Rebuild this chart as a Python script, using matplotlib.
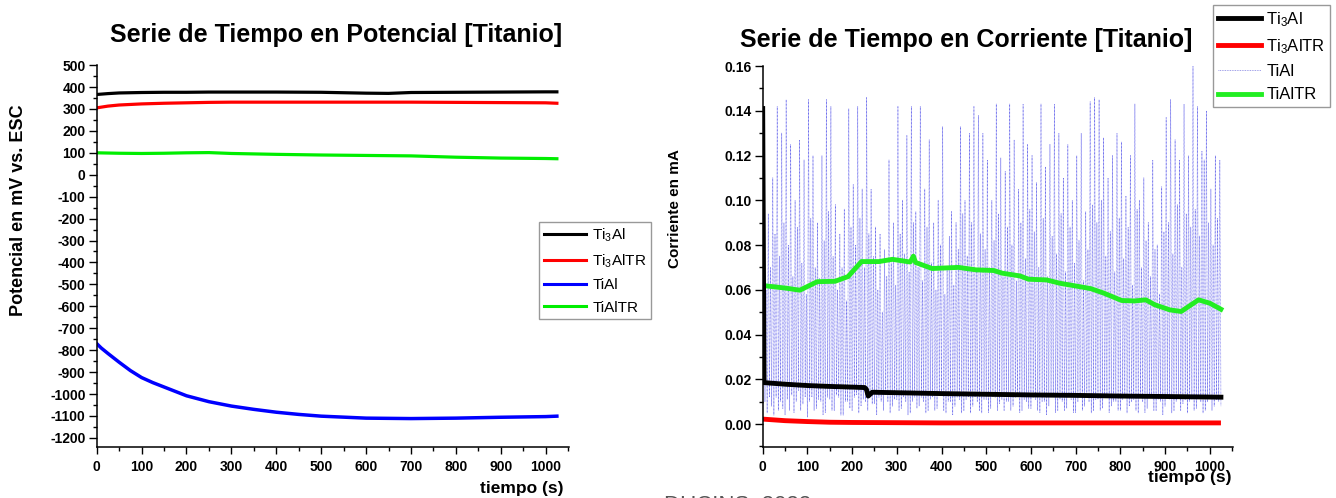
import numpy as np
import matplotlib
matplotlib.use("Agg")
import matplotlib.pyplot as plt
from matplotlib.ticker import MultipleLocator, FormatStrFormatter
from matplotlib.lines import Line2D

plt.rcParams['font.family'] = ['Liberation Sans', 'DejaVu Sans']
plt.rcParams['mathtext.fontset'] = 'custom'
plt.rcParams['mathtext.rm'] = 'Liberation Sans'
plt.rcParams['mathtext.it'] = 'Liberation Sans'
plt.rcParams['mathtext.default'] = 'regular'
plt.rcParams['axes.unicode_minus'] = False

# ---------------- data: potential (mV vs ESC) ----------------
t_pot = [0, 25, 50, 100, 150, 200, 250, 300, 400, 500, 600, 650, 700, 800, 900, 1000, 1025]
pot_ti3al = [366, 370, 373, 375, 376, 376, 377, 377, 377, 376, 372, 371, 375, 376, 377, 378, 378]
pot_ti3altr = [305, 313, 318, 323, 326, 328, 330, 331, 331, 331, 331, 331, 331, 330, 329, 328, 326]
pot_tialtr = [100, 99, 98, 97, 98, 100, 101, 97, 93, 90, 88, 87, 86, 80, 76, 74, 73]
t_pot_tial = [0, 10, 25, 50, 75, 100, 125, 150, 200, 250, 300, 350, 400, 450, 500, 600, 700, 800, 900, 1000, 1025]
pot_tial = [-770, -790, -815, -855, -893, -925, -948, -968, -1008, -1035, -1055, -1070, -1083, -1093,
            -1101, -1110, -1112, -1110, -1106, -1103, -1101]

# ---------------- data: current (mA) ----------------
t_cur_ti3al = [0, 3, 50, 100, 150, 200, 228, 232, 236, 245, 300, 400, 500, 600, 700, 800, 900, 1025]
cur_ti3al = [0.141, 0.0185, 0.0178, 0.0172, 0.0168, 0.0165, 0.0163, 0.0155, 0.0125, 0.0142, 0.014,
             0.0136, 0.0133, 0.013, 0.0128, 0.0125, 0.0123, 0.012]
t_cur_ti3altr = [0, 50, 100, 150, 200, 300, 400, 600, 800, 1025]
cur_ti3altr = [0.0022, 0.0015, 0.0011, 0.0008, 0.0007, 0.0006, 0.0005, 0.0005, 0.0005, 0.0005]
t_cur_tialtr = [0, 53, 83, 122, 162, 191, 221, 260, 290, 330, 337, 342, 379, 438, 477, 517, 536, 575,
                595, 635, 665, 700, 734, 763, 803, 832, 857, 877, 911, 936, 975, 1000, 1025]
cur_tialtr = [0.0619, 0.0607, 0.0598, 0.0636, 0.0638, 0.0659, 0.0726, 0.0726, 0.0736, 0.0724, 0.0750,
              0.0722, 0.0695, 0.0700, 0.0689, 0.0686, 0.0674, 0.0662, 0.0647, 0.0644, 0.0629, 0.0617,
              0.0605, 0.0585, 0.0552, 0.0550, 0.0555, 0.0533, 0.0510, 0.0503, 0.0555, 0.0540, 0.0513]
# TiAl current, one reading every 2.5 s
cur_tial = [
    0.020, 0.105, 0.010, 0.060, 0.005, 0.094, 0.012, 0.070, 0.008, 0.110, 0.004, 0.085, 0.012, 0.142, 0.006, 0.075, 0.010, 0.130, 0.007, 0.090,
    0.004, 0.145, 0.011, 0.080, 0.006, 0.125, 0.013, 0.066, 0.005, 0.100, 0.010, 0.088, 0.015, 0.127, 0.006, 0.072, 0.009, 0.118, 0.012, 0.058,
    0.003, 0.145, 0.010, 0.092, 0.012, 0.120, 0.006, 0.070, 0.007, 0.090, 0.011, 0.065, 0.010, 0.120, 0.004, 0.082, 0.005, 0.145, 0.012, 0.095,
    0.011, 0.142, 0.006, 0.075, 0.006, 0.098, 0.013, 0.060, 0.012, 0.085, 0.004, 0.070, 0.004, 0.096, 0.010, 0.055, 0.010, 0.141, 0.007, 0.088,
    0.006, 0.107, 0.012, 0.080, 0.013, 0.142, 0.005, 0.092, 0.008, 0.105, 0.011, 0.070, 0.010, 0.146, 0.006, 0.085, 0.012, 0.105, 0.009, 0.075,
    0.009, 0.088, 0.004, 0.060, 0.012, 0.085, 0.010, 0.050, 0.006, 0.078, 0.013, 0.066, 0.010, 0.118, 0.005, 0.072, 0.008, 0.090, 0.011, 0.062,
    0.011, 0.142, 0.006, 0.085, 0.007, 0.100, 0.012, 0.076, 0.010, 0.129, 0.004, 0.068, 0.005, 0.142, 0.010, 0.090, 0.012, 0.095, 0.007, 0.070,
    0.008, 0.142, 0.012, 0.064, 0.010, 0.105, 0.005, 0.088, 0.006, 0.127, 0.011, 0.072, 0.012, 0.090, 0.006, 0.060, 0.007, 0.100, 0.013, 0.080,
    0.013, 0.133, 0.006, 0.058, 0.005, 0.070, 0.010, 0.084, 0.010, 0.095, 0.004, 0.062, 0.008, 0.090, 0.012, 0.078, 0.011, 0.133, 0.005, 0.094,
    0.006, 0.100, 0.011, 0.075, 0.012, 0.130, 0.005, 0.090, 0.008, 0.142, 0.012, 0.068, 0.010, 0.138, 0.006, 0.085, 0.005, 0.130, 0.011, 0.078,
    0.011, 0.118, 0.005, 0.070, 0.007, 0.100, 0.012, 0.082, 0.012, 0.143, 0.006, 0.094, 0.009, 0.119, 0.011, 0.066, 0.006, 0.113, 0.010, 0.088,
    0.010, 0.143, 0.006, 0.080, 0.008, 0.127, 0.012, 0.064, 0.012, 0.105, 0.005, 0.090, 0.006, 0.143, 0.011, 0.074, 0.010, 0.125, 0.007, 0.096,
    0.007, 0.120, 0.012, 0.086, 0.011, 0.108, 0.006, 0.070, 0.005, 0.143, 0.010, 0.092, 0.010, 0.115, 0.004, 0.066, 0.008, 0.125, 0.012, 0.084,
    0.012, 0.143, 0.005, 0.076, 0.006, 0.130, 0.011, 0.094, 0.010, 0.110, 0.006, 0.068, 0.007, 0.125, 0.012, 0.088, 0.011, 0.100, 0.005, 0.072,
    0.005, 0.120, 0.010, 0.082, 0.012, 0.130, 0.006, 0.064, 0.008, 0.095, 0.012, 0.078, 0.010, 0.144, 0.005, 0.098, 0.006, 0.146, 0.011, 0.090,
    0.011, 0.145, 0.006, 0.100, 0.007, 0.128, 0.012, 0.075, 0.012, 0.110, 0.005, 0.086, 0.008, 0.120, 0.010, 0.068, 0.010, 0.130, 0.006, 0.092,
    0.006, 0.126, 0.011, 0.074, 0.012, 0.102, 0.005, 0.088, 0.008, 0.120, 0.010, 0.062, 0.011, 0.143, 0.006, 0.096, 0.005, 0.100, 0.012, 0.070,
    0.010, 0.110, 0.005, 0.082, 0.007, 0.090, 0.012, 0.066, 0.012, 0.118, 0.006, 0.078, 0.006, 0.080, 0.011, 0.058, 0.010, 0.106, 0.004, 0.086,
    0.008, 0.137, 0.012, 0.090, 0.011, 0.145, 0.005, 0.076, 0.006, 0.127, 0.010, 0.098, 0.012, 0.118, 0.006, 0.070, 0.009, 0.143, 0.011, 0.094,
    0.005, 0.120, 0.010, 0.088, 0.011, 0.160, 0.006, 0.096, 0.007, 0.142, 0.012, 0.084, 0.010, 0.122, 0.005, 0.118, 0.006, 0.140, 0.010, 0.090,
    0.012, 0.105, 0.006, 0.080, 0.008, 0.120, 0.011, 0.092, 0.010, 0.118, 0.008,
]
t_cur_tial = np.arange(len(cur_tial)) * 2.5

labels = ['Ti$_3$Al', 'Ti$_3$AlTR', 'TiAl', 'TiAlTR']
colors_pot = ['#000000', '#ff0000', '#0000ff', '#00ee00']

# ---------------- figure ----------------
W, H = 1336, 498
fig = plt.figure(figsize=(W / 100, H / 100), dpi=100)

def px_axes(x0, x1, ytop, ybot):
    return [x0 / W, 1 - ybot / H, (x1 - x0) / W, (ybot - ytop) / H]

ax1 = fig.add_axes(px_axes(96.7, 569, 65.1, 447.3))
ax2 = fig.add_axes(px_axes(762.7, 1233, 66, 447.3))

for ax in (ax1, ax2):
    for s in ('top', 'right'):
        ax.spines[s].set_visible(False)
    for s in ('left', 'bottom'):
        ax.spines[s].set_linewidth(1.1)
    ax.set_xlim(0, 1052)
    ax.xaxis.set_major_locator(MultipleLocator(100))
    ax.xaxis.set_minor_locator(MultipleLocator(50))
    ax.tick_params(which='major', direction='out', length=5, width=1.0, labelsize=10, pad=4)
    ax.tick_params(which='minor', direction='out', length=3, width=1.0)
    ax.tick_params(axis='y', which='major', length=6, pad=2)

# potential
ax1.plot(t_pot, pot_ti3al, color=colors_pot[0], lw=2.3)
ax1.plot(t_pot, pot_ti3altr, color=colors_pot[1], lw=2.3)
ax1.plot(t_pot_tial, pot_tial, color=colors_pot[2], lw=2.5)
ax1.plot(t_pot, pot_tialtr, color=colors_pot[3], lw=2.3)
ax1.set_ylim(-1243, 500)
ax1.yaxis.set_major_locator(MultipleLocator(100))
ax1.yaxis.set_minor_locator(MultipleLocator(50))

# current
ax2.plot(t_cur_tial, cur_tial, color='#3a3ae6', lw=0.5, ls=(0, (1, 1)), alpha=0.75)
ax2.plot(t_cur_ti3altr, cur_ti3altr, color='#ff0000', lw=3.5, solid_capstyle='butt')
ax2.plot(t_cur_tialtr, cur_tialtr, color='#22ee22', lw=3.5)
ax2.plot(t_cur_ti3al, cur_ti3al, color='#000000', lw=3.5)
ax2.set_ylim(-0.0104, 0.16)
ax2.yaxis.set_major_locator(MultipleLocator(0.02))
ax2.yaxis.set_minor_locator(MultipleLocator(0.01))
ax2.yaxis.set_major_formatter(FormatStrFormatter('%.2f'))

for ax in (ax1, ax2):
    for lab in ax.get_xticklabels() + ax.get_yticklabels():
        lab.set_fontweight('bold')

# titles and labels
fig.text(336 / W, 1 - 35 / H, 'Serie de Tiempo en Potencial [Titanio]', ha='center', va='center',
         fontsize=18, fontweight='bold')
fig.text(966 / W, 1 - 40 / H, 'Serie de Tiempo en Corriente [Titanio]', ha='center', va='center',
         fontsize=18, fontweight='bold')
fig.text(19 / W, 1 - 210 / H, 'Potencial en mV vs. ESC', rotation=90, ha='center', va='center',
         fontsize=13, fontweight='bold')
fig.text(675 / W, 1 - 209 / H, 'Corriente en mA', rotation=90, ha='center', va='center',
         fontsize=11, fontweight='bold')
fig.text(564 / W, 1 - 488 / H, 'tiempo (s)', ha='right', va='center', fontsize=12.5, fontweight='bold')
fig.text(1232 / W, 1 - 477 / H, 'tiempo (s)', ha='right', va='center', fontsize=12.5, fontweight='bold')
fig.text(738 / W, 1 - 506 / H, 'DUCINS, 2022', ha='center', va='center', fontsize=16, color='#555555')

# legends
h1 = [Line2D([], [], color=c, lw=2.2) for c in colors_pot]
fig.legend(h1, labels, loc='upper left', bbox_to_anchor=(539 / W, 1 - 222 / H), fontsize=11,
           frameon=True, fancybox=False, edgecolor='#999999', framealpha=1, borderpad=0.3,
           labelspacing=0.55, handlelength=2.8, handletextpad=0.4, borderaxespad=0)
h2 = [Line2D([], [], color='#000000', lw=3.5),
      Line2D([], [], color='#ff0000', lw=3.5),
      Line2D([], [], color='#8080e0', lw=0.6, ls=(0, (1, 1))),
      Line2D([], [], color='#22ee22', lw=3.5)]
fig.legend(h2, labels, loc='upper left', bbox_to_anchor=(1213 / W, 1 - 5 / H), fontsize=12,
           frameon=True, fancybox=False, edgecolor='#999999', framealpha=1, borderpad=0.3,
           labelspacing=0.5, handlelength=2.6, handletextpad=0.3, borderaxespad=0)

fig.savefig('out.png', dpi=100)
